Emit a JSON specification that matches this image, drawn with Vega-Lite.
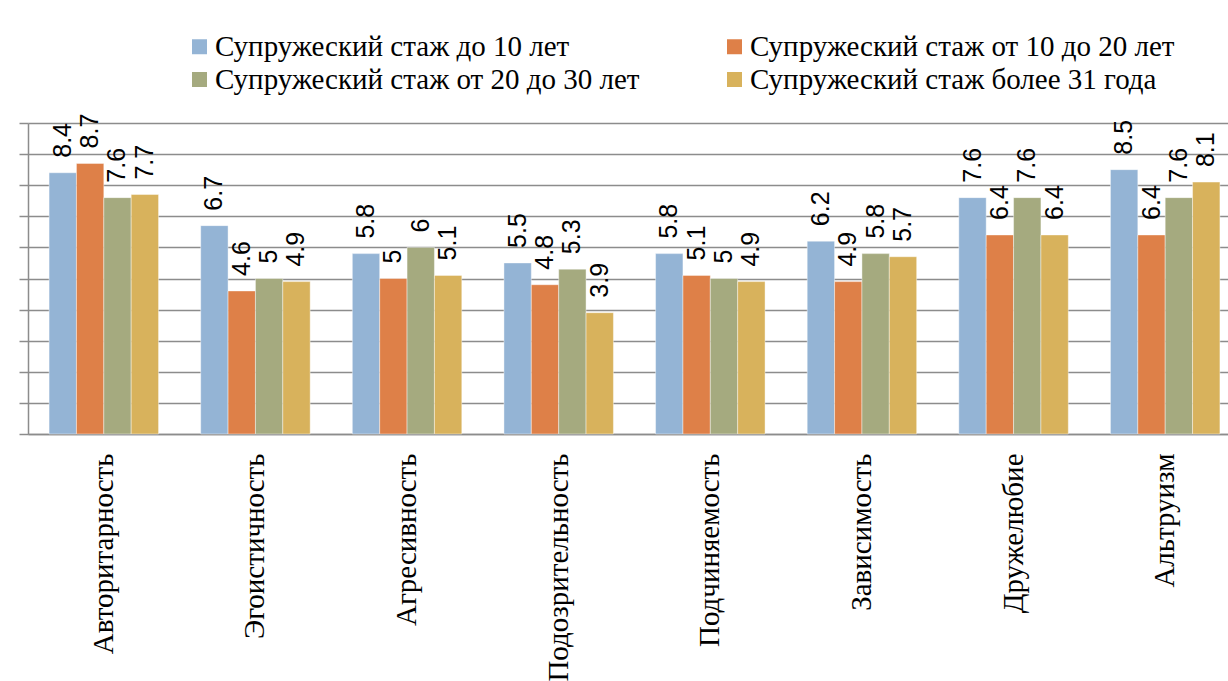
{
  "$schema": "https://vega.github.io/schema/vega-lite/v6.json",
  "autosize": "none",
  "width": 1200,
  "height": 311,
  "padding": {"left": 28, "top": 123, "right": 0, "bottom": 247},
  "background": "white",
  "config": {
    "view": {"stroke": null},
    "font": "Liberation Serif",
    "legend": {
      "labelFont": "Liberation Serif",
      "labelFontSize": 29,
      "labelColor": "#000000",
      "labelLimit": 700
    }
  },
  "data": {
    "values": [
      {"trait": "Авторитарность", "group": "Супружеский стаж до 10 лет", "value": 8.4},
      {"trait": "Авторитарность", "group": "Супружеский стаж от 10 до 20 лет", "value": 8.7},
      {"trait": "Авторитарность", "group": "Супружеский стаж от 20 до 30 лет", "value": 7.6},
      {"trait": "Авторитарность", "group": "Супружеский стаж более 31 года", "value": 7.7},
      {"trait": "Эгоистичность", "group": "Супружеский стаж до 10 лет", "value": 6.7},
      {"trait": "Эгоистичность", "group": "Супружеский стаж от 10 до 20 лет", "value": 4.6},
      {"trait": "Эгоистичность", "group": "Супружеский стаж от 20 до 30 лет", "value": 5},
      {"trait": "Эгоистичность", "group": "Супружеский стаж более 31 года", "value": 4.9},
      {"trait": "Агресивность", "group": "Супружеский стаж до 10 лет", "value": 5.8},
      {"trait": "Агресивность", "group": "Супружеский стаж от 10 до 20 лет", "value": 5},
      {"trait": "Агресивность", "group": "Супружеский стаж от 20 до 30 лет", "value": 6},
      {"trait": "Агресивность", "group": "Супружеский стаж более 31 года", "value": 5.1},
      {"trait": "Подозрительность", "group": "Супружеский стаж до 10 лет", "value": 5.5},
      {"trait": "Подозрительность", "group": "Супружеский стаж от 10 до 20 лет", "value": 4.8},
      {"trait": "Подозрительность", "group": "Супружеский стаж от 20 до 30 лет", "value": 5.3},
      {"trait": "Подозрительность", "group": "Супружеский стаж более 31 года", "value": 3.9},
      {"trait": "Подчиняемость", "group": "Супружеский стаж до 10 лет", "value": 5.8},
      {"trait": "Подчиняемость", "group": "Супружеский стаж от 10 до 20 лет", "value": 5.1},
      {"trait": "Подчиняемость", "group": "Супружеский стаж от 20 до 30 лет", "value": 5},
      {"trait": "Подчиняемость", "group": "Супружеский стаж более 31 года", "value": 4.9},
      {"trait": "Зависимость", "group": "Супружеский стаж до 10 лет", "value": 6.2},
      {"trait": "Зависимость", "group": "Супружеский стаж от 10 до 20 лет", "value": 4.9},
      {"trait": "Зависимость", "group": "Супружеский стаж от 20 до 30 лет", "value": 5.8},
      {"trait": "Зависимость", "group": "Супружеский стаж более 31 года", "value": 5.7},
      {"trait": "Дружелюбие", "group": "Супружеский стаж до 10 лет", "value": 7.6},
      {"trait": "Дружелюбие", "group": "Супружеский стаж от 10 до 20 лет", "value": 6.4},
      {"trait": "Дружелюбие", "group": "Супружеский стаж от 20 до 30 лет", "value": 7.6},
      {"trait": "Дружелюбие", "group": "Супружеский стаж более 31 года", "value": 6.4},
      {"trait": "Альтруизм", "group": "Супружеский стаж до 10 лет", "value": 8.5},
      {"trait": "Альтруизм", "group": "Супружеский стаж от 10 до 20 лет", "value": 6.4},
      {"trait": "Альтруизм", "group": "Супружеский стаж от 20 до 30 лет", "value": 7.6},
      {"trait": "Альтруизм", "group": "Супружеский стаж более 31 года", "value": 8.1}
    ]
  },
  "encoding": {
    "x": {
      "field": "trait",
      "type": "nominal",
      "sort": null,
      "scale": {"range": [0, 1213], "paddingInner": 0.278, "paddingOuter": 0.139},
      "axis": {
        "title": null,
        "labelAngle": 270,
        "labelAlign": "right",
        "labelBaseline": "middle",
        "labelFont": "Liberation Serif",
        "labelFontSize": 29,
        "labelColor": "#000000",
        "labelPadding": 19,
        "labelLimit": 400,
        "ticks": false,
        "domainColor": "#8c8c8c",
        "domainWidth": 1.5,
        "grid": false
      }
    },
    "xOffset": {
      "field": "group",
      "type": "nominal",
      "sort": ["Супружеский стаж до 10 лет", "Супружеский стаж от 10 до 20 лет", "Супружеский стаж от 20 до 30 лет", "Супружеский стаж более 31 года"],
      "scale": {"paddingInner": 0, "paddingOuter": 0}
    },
    "y": {
      "field": "value",
      "type": "quantitative",
      "scale": {"domain": [0, 10], "nice": false},
      "axis": {
        "title": null,
        "labels": false,
        "values": [0, 1, 2, 3, 4, 5, 6, 7, 8, 9, 10],
        "tickSize": 9,
        "tickColor": "#8c8c8c",
        "tickWidth": 1.5,
        "domainColor": "#8c8c8c",
        "domainWidth": 1.5,
        "gridColor": "#8c8c8c",
        "gridWidth": 1.5,
        "gridOpacity": 1
      }
    }
  },
  "layer": [
    {
      "mark": {"type": "bar", "stroke": "#ffffff", "strokeWidth": 0.6, "strokeOpacity": 0.7},
      "encoding": {
        "color": {
          "field": "group",
          "type": "nominal",
          "sort": ["Супружеский стаж до 10 лет", "Супружеский стаж от 10 до 20 лет", "Супружеский стаж от 20 до 30 лет", "Супружеский стаж более 31 года"],
          "scale": {
            "domain": ["Супружеский стаж до 10 лет", "Супружеский стаж от 10 до 20 лет", "Супружеский стаж от 20 до 30 лет", "Супружеский стаж более 31 года"],
            "range": ["#94B4D5", "#DE8048", "#A5AA7F", "#D8B25C"]
          },
          "legend": {
            "title": null,
            "orient": "none",
            "legendX": 157,
            "legendY": -91,
            "direction": "horizontal",
            "columns": 2,
            "columnPadding": 80,
            "rowPadding": 3,
            "padding": 0,
            "symbolType": "square",
            "symbolSize": 225,
            "symbolStrokeWidth": 0,
            "symbolOpacity": 1,
            "labelFont": "Liberation Serif",
            "labelFontSize": 29,
            "labelColor": "#000000",
            "labelOffset": 1,
            "labelLimit": 700
          }
        }
      }
    },
    {
      "mark": {
        "type": "text",
        "angle": 270,
        "align": "left",
        "baseline": "middle",
        "dx": 15,
        "font": "Liberation Sans",
        "fontSize": 25,
        "color": "#000000"
      },
      "encoding": {
        "text": {"field": "value", "type": "quantitative"}
      }
    }
  ]
}
